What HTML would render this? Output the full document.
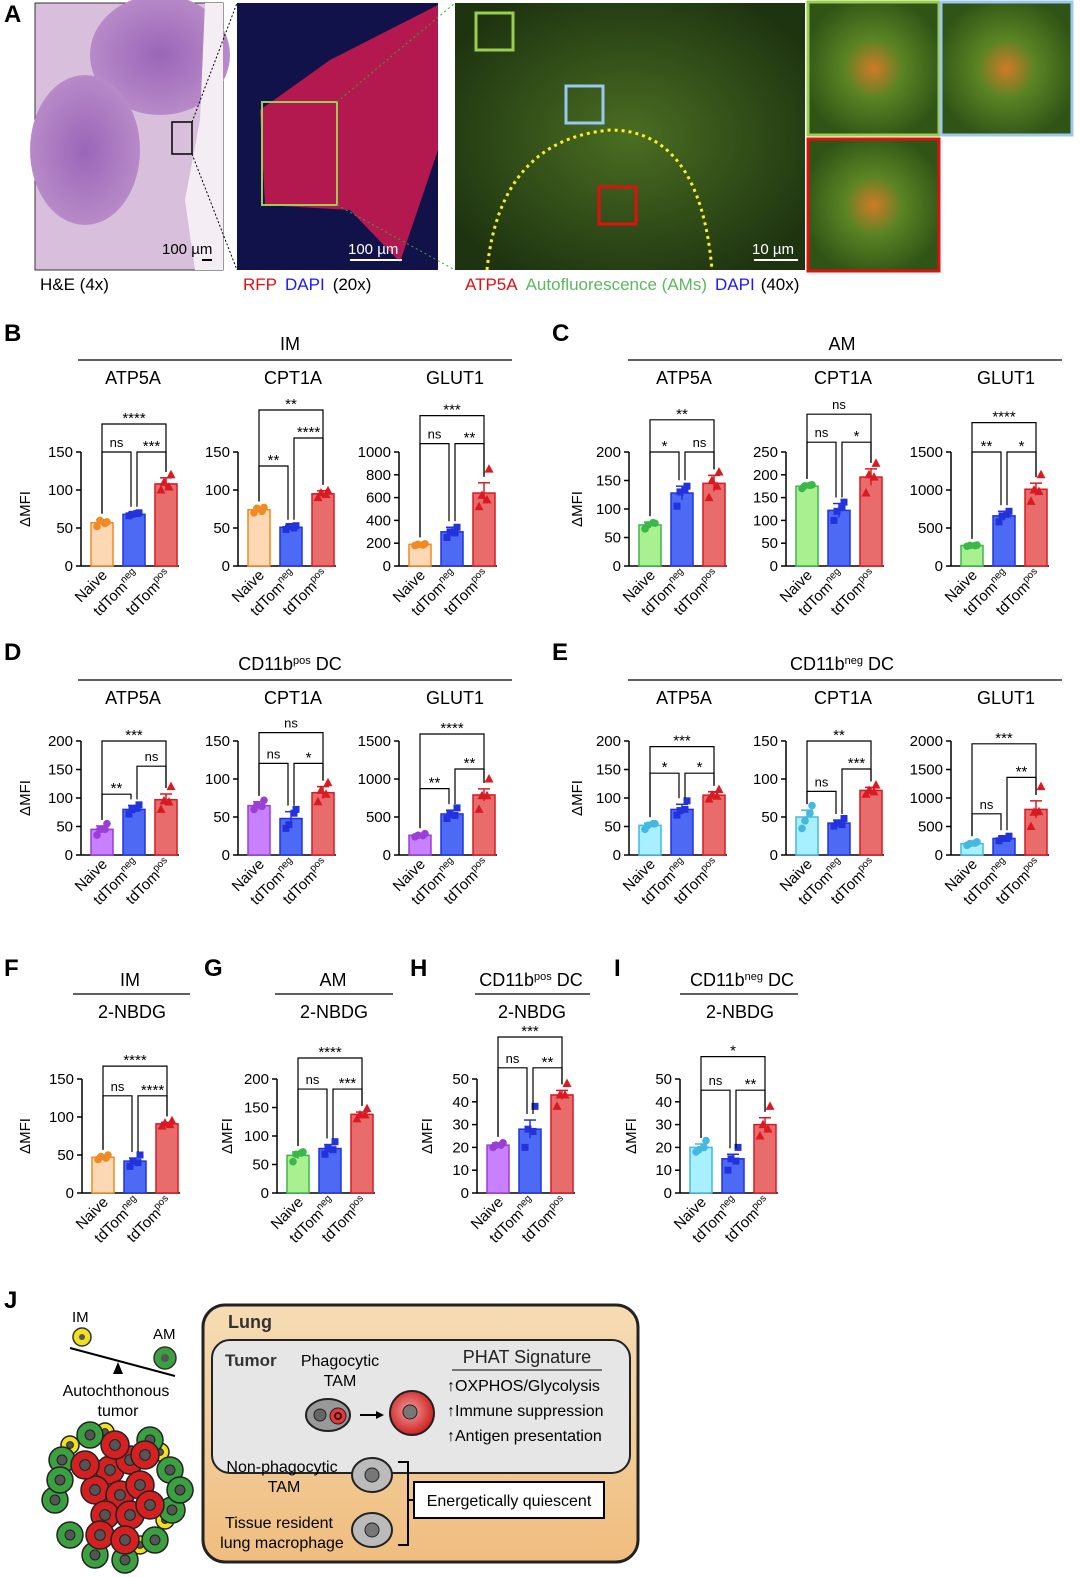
<!DOCTYPE html>
<html><head><meta charset="utf-8"><style>
html,body{margin:0;padding:0;background:#fff}
svg{display:block;font-family:"Liberation Sans",Arial,sans-serif}
</style></head><body>
<svg id="fig" width="1080" height="1577" viewBox="0 0 1080 1577" xmlns="http://www.w3.org/2000/svg">
<defs>
<radialGradient id="he1" cx="50%" cy="50%" r="50%"><stop offset="0" stop-color="#9a66b8"/><stop offset="1" stop-color="#b88ac8"/></radialGradient>
<radialGradient id="grn" cx="50%" cy="50%" r="60%"><stop offset="0" stop-color="#4a6e22"/><stop offset="1" stop-color="#1e3410"/></radialGradient>
<radialGradient id="ins" cx="50%" cy="50%" r="55%"><stop offset="0" stop-color="#d07a28"/><stop offset="0.4" stop-color="#5a8424"/><stop offset="1" stop-color="#2f5416"/></radialGradient>
<radialGradient id="redcell" cx="45%" cy="45%" r="55%"><stop offset="0" stop-color="#f0a0a0"/><stop offset="1" stop-color="#d02020"/></radialGradient>
<linearGradient id="lung" x1="0" y1="0" x2="0" y2="1"><stop offset="0" stop-color="#f6dcb4"/><stop offset="1" stop-color="#efbd7e"/></linearGradient>
</defs>

<g>
<text x="4" y="22" font-size="24" font-weight="bold">A</text>
<rect x="35" y="3" width="188" height="267" fill="#d8bfdc" stroke="#333"/>
<ellipse cx="160" cy="55" rx="70" ry="60" fill="url(#he1)"/>
<ellipse cx="85" cy="150" rx="55" ry="75" fill="url(#he1)"/>
<path d="M205,3 L223,3 L223,270 L195,270 L185,200 L200,120 Z" fill="#f4eef4"/>
<rect x="172" y="122" width="20" height="32" fill="none" stroke="#000" stroke-width="1.5"/>
<line x1="192" y1="122" x2="237" y2="3" stroke="#000" stroke-dasharray="2,2"/>
<line x1="192" y1="154" x2="237" y2="270" stroke="#000" stroke-dasharray="2,2"/>
<text x="162" y="254" font-size="15" fill="#000">100 µm</text>
<rect x="202" y="259" width="10" height="2" fill="#000"/>
<rect x="237" y="3" width="201" height="267" fill="#12124a"/>
<path d="M260,110 L330,60 L438,5 L438,150 L400,262 L350,210 L265,205 Z" fill="#b3184e"/>
<rect x="262" y="102" width="75" height="103" fill="none" stroke="#9acd50" stroke-width="2"/>
<text x="348" y="254" font-size="15" fill="#fff">100 µm</text>
<rect x="350" y="259" width="52" height="2" fill="#fff"/>
<line x1="337" y1="102" x2="455" y2="3" stroke="#3a3" stroke-dasharray="2,3"/>
<line x1="337" y1="205" x2="455" y2="270" stroke="#3a3" stroke-dasharray="2,3"/>
<rect x="455" y="3" width="350" height="267" fill="url(#grn)"/>
<path d="M487,270 Q500,140 610,130 Q700,130 712,270" fill="none" stroke="#ffee22" stroke-width="3" stroke-dasharray="3,4"/>
<rect x="476" y="13" width="37" height="37" fill="none" stroke="#9acd50" stroke-width="3"/>
<rect x="566" y="86" width="37" height="37" fill="none" stroke="#9cc8f0" stroke-width="3"/>
<rect x="599" y="187" width="37" height="37" fill="none" stroke="#e01010" stroke-width="3"/>
<text x="752" y="254" font-size="15" fill="#fff">10 µm</text>
<rect x="754" y="259" width="44" height="2" fill="#fff"/>
<rect x="808" y="2" width="131" height="133" fill="url(#ins)" stroke="#9acd50" stroke-width="3"/>
<rect x="941" y="2" width="131" height="133" fill="url(#ins)" stroke="#9cc8f0" stroke-width="3"/>
<rect x="808" y="139" width="131" height="132" fill="url(#ins)" stroke="#e01010" stroke-width="3"/>
<text x="40" y="290" font-size="17">H&amp;E (4x)</text>
<text x="243" y="290" font-size="17"><tspan fill="#e01010">RFP</tspan><tspan fill="#1a1aff" dx="8">DAPI</tspan><tspan dx="8">(20x)</tspan></text>
<text x="465" y="290" font-size="17"><tspan fill="#e01010">ATP5A</tspan><tspan fill="#5cb85c" dx="8">Autofluorescence (AMs)</tspan><tspan fill="#1a1aff" dx="8">DAPI</tspan><tspan dx="6">(40x)</tspan></text>
</g>
<g id="charts"></g>

<g>
<text x="4" y="1308" font-size="24" font-weight="bold">J</text>
<text x="72" y="1322" font-size="15">IM</text>
<text x="153" y="1339" font-size="15">AM</text>
<line x1="70" y1="1348" x2="175" y2="1376" stroke="#000" stroke-width="2"/>
<polygon points="118,1362 113,1374 123,1374" fill="#000"/>
<circle cx="82" cy="1337" r="9" fill="#f0e020" stroke="#333" stroke-width="1.5"/><circle cx="82" cy="1337" r="3" fill="#555"/>
<circle cx="165" cy="1358" r="11" fill="#3aa040" stroke="#333" stroke-width="1.5"/><circle cx="165" cy="1358" r="4" fill="#555"/>
<text x="116" y="1396" font-size="16" text-anchor="middle">Autochthonous</text>
<text x="118" y="1416" font-size="16" text-anchor="middle">tumor</text>
<g id="tumor"></g>
<rect x="203" y="1305" width="435" height="257" rx="22" fill="url(#lung)" stroke="#222" stroke-width="3"/>
<text x="228" y="1328" font-size="18" font-weight="bold" fill="#333">Lung</text>
<rect x="212" y="1340" width="418" height="133" rx="18" fill="#e6e6e6" stroke="#222" stroke-width="2"/>
<text x="225" y="1366" font-size="17" font-weight="bold" fill="#333">Tumor</text>
<text x="340" y="1366" font-size="16" text-anchor="middle">Phagocytic</text>
<text x="340" y="1386" font-size="16" text-anchor="middle">TAM</text>
<ellipse cx="328" cy="1415" rx="22" ry="16" fill="#999" stroke="#222" stroke-width="2"/>
<circle cx="320" cy="1415" r="6" fill="#666" stroke="#222"/>
<circle cx="338" cy="1416" r="8" fill="#e33" stroke="#222"/><circle cx="338" cy="1416" r="4" fill="#222"/><circle cx="338" cy="1416" r="2" fill="#e33"/>
<line x1="360" y1="1415" x2="378" y2="1415" stroke="#000" stroke-width="2"/><polygon points="384,1415 376,1411 376,1419" fill="#000"/>
<circle cx="412" cy="1413" r="22" fill="url(#redcell)" stroke="#222" stroke-width="2"/>
<circle cx="410" cy="1412" r="7" fill="#777" stroke="#222"/>
<text x="527" y="1363" font-size="18" text-anchor="middle" fill="#222">PHAT Signature</text>
<line x1="452" y1="1370" x2="602" y2="1370" stroke="#000"/>
<text x="447" y="1391" font-size="16">↑OXPHOS/Glycolysis</text>
<text x="447" y="1416" font-size="16">↑Immune suppression</text>
<text x="447" y="1441" font-size="16">↑Antigen presentation</text>
<text x="282" y="1472" font-size="16" text-anchor="middle">Non-phagocytic</text>
<text x="284" y="1492" font-size="16" text-anchor="middle">TAM</text>
<ellipse cx="372" cy="1475" rx="20" ry="17" fill="#bbb" stroke="#222" stroke-width="2"/><circle cx="372" cy="1475" r="7" fill="#777" stroke="#222"/>
<text x="279" y="1528" font-size="16" text-anchor="middle">Tissue resident</text>
<text x="282" y="1548" font-size="16" text-anchor="middle">lung macrophage</text>
<ellipse cx="372" cy="1530" rx="20" ry="17" fill="#bbb" stroke="#222" stroke-width="2"/><circle cx="372" cy="1530" r="7" fill="#777" stroke="#222"/>
<polyline points="398,1462 408,1462 408,1545 398,1545" fill="none" stroke="#000" stroke-width="2"/>
<line x1="408" y1="1500" x2="414" y2="1500" stroke="#000" stroke-width="2"/>
<rect x="414" y="1482" width="190" height="36" fill="#fff" stroke="#000" stroke-width="2"/>
<text x="509" y="1506" font-size="16" text-anchor="middle">Energetically quiescent</text>
</g>
</svg>
<script>
const NS='http://www.w3.org/2000/svg';
const groupLabels=['Naive','tdTom','tdTom'];
const groupSups=['','neg','pos'];
const meanB1=[57,68,108], errB1=[4,2,8], ptsB1=[[52,58,60,56],[66,70,68,69],[100,120,110,104]];
const meanB2=[74,51,95], errB2=[3,2,4], ptsB2=[[70,77,76,72],[48,53,52,50],[90,99,96,94]];
const meanB3=[190,300,640], errB3=[10,40,90], ptsB3=[[180,195,190,185],[250,340,300,290],[520,850,620,580]];
const meanC1=[72,128,145], errC1=[5,12,14], ptsC1=[[65,75,72,76],[105,140,130,135],[120,165,150,140]];
const meanC2=[175,122,195], errC2=[3,15,18], ptsC2=[[170,178,176,177],[100,140,120,128],[160,225,200,195]];
const meanC3=[270,660,1010], errC3=[10,60,80], ptsC3=[[260,275,270,268],[580,720,660,680],[850,1200,1000,980]];
const meanD1=[45,80,97], errD1=[6,7,10], ptsD1=[[35,55,45,45],[72,88,80,82],[80,120,95,93]];
const meanD2=[65,48,82], errD2=[5,9,8], ptsD2=[[60,72,66,64],[35,60,40,55],[70,95,85,80]];
const meanD3=[260,540,790], errD3=[15,50,80], ptsD3=[[240,280,260,255],[480,620,540,520],[600,1000,780,780]];
const meanE1=[52,80,105], errE1=[4,9,6], ptsE1=[[45,55,52,55],[70,95,78,80],[98,115,105,103]];
const meanE2=[50,42,85], errE2=[9,4,4], ptsE2=[[35,65,45,55],[38,48,42,40],[80,92,85,83]];
const meanE3=[200,290,800], errE3=[25,40,150], ptsE3=[[170,230,200,210],[250,330,290,290],[500,1200,750,760]];
const meanF=[47,42,91], errF=[2,4,2], ptsF=[[44,50,48,46],[35,50,42,40],[88,95,92,90]];
const meanG=[66,78,138], errG=[6,7,4], ptsG=[[55,72,68,70],[68,90,78,76],[130,148,137,137]];
const meanH=[21,28,43], errH=[1,4,2], ptsH=[[20,22,21,21],[20,38,28,27],[38,48,43,43]];
const meanI=[20,15,30], errI=[1.5,2,3], ptsI=[[18,23,19,20],[10,20,15,14],[25,38,30,28]];
const sigB1=[[0,1,'ns',0],[1,2,'***',0],[0,2,'****',1]];
const sigB2=[[0,1,'**',-0.5],[1,2,'****',0.5],[0,2,'**',1.5]];
const sigB3=[[0,1,'ns',0.3],[1,2,'**',0.3],[0,2,'***',1.3]];
const sigC1=[[0,1,'*',0],[1,2,'ns',0],[0,2,'**',1.15]];
const sigC2=[[0,1,'ns',0.35],[1,2,'*',0.35],[0,2,'ns',1.35]];
const sigC3=[[0,1,'**',0],[1,2,'*',0],[0,2,'****',1.05]];
const sigD1=[[0,1,'**',-1.9],[1,2,'ns',-0.9],[0,2,'***',0]];
const sigD2=[[0,1,'ns',-0.8],[1,2,'*',-0.8],[0,2,'ns',0.3]];
const sigD3=[[0,1,'**',-1.7],[1,2,'**',-1],[0,2,'****',0.25]];
const sigE1=[[0,1,'*',-1.15],[1,2,'*',-1.15],[0,2,'***',-0.2]];
const sigE2=[[0,1,'ns',-1.8],[1,2,'***',-1],[0,2,'**',0]];
const sigE3=[[0,1,'ns',-2.6],[1,2,'**',-1.3],[0,2,'***',-0.1]];
const sigF=[[0,1,'ns',-0.6],[1,2,'****',-0.6],[0,2,'****',0.46]];
const sigG=[[0,1,'ns',-0.36],[1,2,'***',-0.36],[0,2,'****',0.75]];
const sigH=[[0,1,'ns',0.4],[1,2,'**',0.4],[0,2,'***',1.5]];
const sigI=[[0,1,'ns',-0.4],[1,2,'**',-0.4],[0,2,'*',0.8]];

const COL={IM:[['#fcd9b4','#f08a24'],['#4d6af5','#2233dd'],['#e86c6c','#d91a22']],
AM:[['#a8f090','#3cb84a'],['#4d6af5','#2233dd'],['#e86c6c','#d91a22']],
DP:[['#c880ff','#9b3ed6'],['#4d6af5','#2233dd'],['#e86c6c','#d91a22']],
DN:[['#a8f0ff','#45b8e0'],['#4d6af5','#2233dd'],['#e86c6c','#d91a22']]};

const root=document.getElementById('charts');
function el(tag,attrs,parent,text){const e=document.createElementNS(NS,tag);for(const k in attrs)e.setAttribute(k,attrs[k]);if(text!==undefined)e.textContent=text;(parent||root).appendChild(e);return e;}

function chart(name,ax,yb,max,step,mean,err,pts,sig,col,ylx){
  const g=el('g',{});
  
  
  const H=114, top=yb-H;
  const y=v=>yb-v/max*H;
  el('line',{x1:ax,y1:yb,x2:ax,y2:top,stroke:'#000','stroke-width':1.5},g);
  el('line',{x1:ax,y1:yb,x2:ax+98,y2:yb,stroke:'#000','stroke-width':1.5},g);
  for(let v=0;v<=max+1e-9;v+=step){
    el('line',{x1:ax-5,y1:y(v),x2:ax,y2:y(v),stroke:'#000','stroke-width':1.5},g);
    const t=el('text',{x:ax-8,y:y(v)+5,'font-size':15,'text-anchor':'end'},g,String(v));
    
    
  }
  if(ylx!==undefined){
    const t=el('text',{x:ylx,y:yb-57,'font-size':15,'text-anchor':'middle',transform:`rotate(-90 ${ylx} ${yb-57})`},g,'ΔMFI');
    
    
  }
  const cx=[ax+21,ax+53,ax+85];
  for(let i=0;i<3;i++){
    const b=el('rect',{x:cx[i]-11,y:y(mean[i]),width:22,height:yb-y(mean[i]),fill:col[i][0],stroke:col[i][1],'stroke-width':1.5},g);
    
    
    el('line',{x1:cx[i],y1:y(mean[i]-err[i]),x2:cx[i],y2:y(mean[i]+err[i]),stroke:col[i][1],'stroke-width':1.5},g);
    el('line',{x1:cx[i]-6,y1:y(mean[i]+err[i]),x2:cx[i]+6,y2:y(mean[i]+err[i]),stroke:col[i][1],'stroke-width':1.5},g);
    pts[i].forEach((v,k)=>{
      const px=cx[i]+[-5,5,-2,3][k], py=y(v);
      let m;
      if(i===0)m=el('circle',{cx:px,cy:py,r:3.8,fill:col[i][1]},g);
      else if(i===1)m=el('rect',{x:px-3.5,y:py-3.5,width:7,height:7,fill:col[i][1]},g);
      else m=el('polygon',{points:`${px},${py-5} ${px-4.5},${py+3.5} ${px+4.5},${py+3.5}`,fill:col[i][1]},g);
      
      
    });
    const lx=cx[i]+6, ly=yb+10;
    const t=el('text',{x:lx,y:ly,'font-size':15,'text-anchor':'end',transform:`rotate(-45 ${lx} ${ly})`},g);
    
    
    el('tspan',{},t,groupLabels[i]);
    if(groupSups[i]){el('tspan',{'font-size':10,dy:-6},t,groupSups[i]);}
  }
  sig.forEach(([a,b,lab,lv])=>{
    const ly=top-lv*28;
    const xa=cx[a]+(a===1?3:0), xb=cx[b]-(b===1?3:0);
    const ta=Math.min(y(mean[a]+err[a])-6,yb-10), tb=Math.min(y(mean[b]+err[b])-6,yb-10);
    const p=el('polyline',{points:`${xa},${Math.max(ta,ly)} ${xa},${ly} ${xb},${ly} ${xb},${Math.max(tb,ly)}`,fill:'none',stroke:'#000','stroke-width':1.2},g);
    
    
    const t=el('text',{x:(xa+xb)/2,y:ly-(lab==='ns'?5:1),'font-size':lab==='ns'?13:15,'text-anchor':'middle'},g,lab);
    
    
  });
}
function txt(name,x,y,s,size,anchor,weight){const t=el('text',{x:x,y:y,'font-size':size,'text-anchor':anchor||'middle','font-weight':weight||'normal'},root);t.innerHTML=s;return t;}
function hline(x1,x2,y){el('line',{x1:x1,y1:y,x2:x2,y2:y,stroke:'#000','stroke-width':1.2});}

[['B',4,341],['C',552,341],['D',4,660],['E',552,660],['F',4,976],['G',204,976],['H',410,976],['I',614,976]].forEach(([l,x,y])=>txt('panel-label-'+l.toLowerCase(),x,y,l,24,'start','bold'));
txt('header-im',290,350,'IM',18);hline(78,512,360);
txt('header-am',842,350,'AM',18);hline(628,1062,360);
txt('header-cd11bpos',290,670,'CD11b<tspan font-size="11" dy="-6">pos</tspan><tspan dy="6"> DC</tspan>',18);hline(78,512,680);
txt('header-cd11bneg',842,670,'CD11b<tspan font-size="11" dy="-6">neg</tspan><tspan dy="6"> DC</tspan>',18);hline(628,1062,680);
[[133,'ATP5A'],[293,'CPT1A'],[455,'GLUT1'],[684,'ATP5A'],[843,'CPT1A'],[1006,'GLUT1']].forEach(([x,s])=>{txt('subtitle',x,384,s,18);txt('subtitle',x,704,s,18);});
txt('header-f',130,986,'IM',18);hline(73,190,994);txt('sub-f',132,1018,'2-NBDG',18);
txt('header-g',333,986,'AM',18);hline(275,393,994);txt('sub-g',334,1018,'2-NBDG',18);
txt('header-h',531,986,'CD11b<tspan font-size="11" dy="-6">pos</tspan><tspan dy="6"> DC</tspan>',18);hline(475,590,994);txt('sub-h',532,1018,'2-NBDG',18);
txt('header-i',742,986,'CD11b<tspan font-size="11" dy="-6">neg</tspan><tspan dy="6"> DC</tspan>',18);hline(680,798,994);txt('sub-i',740,1018,'2-NBDG',18);

chart('chart-b-atp5a',81,566,150,50,meanB1,errB1,ptsB1,sigB1,COL.IM,30);
chart('chart-b-cpt1a',238,566,150,50,meanB2,errB2,ptsB2,sigB2,COL.IM);
chart('chart-b-glut1',399,566,1000,200,meanB3,errB3,ptsB3,sigB3,COL.IM);
chart('chart-c-atp5a',629,566,200,50,meanC1,errC1,ptsC1,sigC1,COL.AM,582);
chart('chart-c-cpt1a',786,566,250,50,meanC2,errC2,ptsC2,sigC2,COL.AM);
chart('chart-c-glut1',951,566,1500,500,meanC3,errC3,ptsC3,sigC3,COL.AM);
chart('chart-d-atp5a',81,855,200,50,meanD1,errD1,ptsD1,sigD1,COL.DP,30);
chart('chart-d-cpt1a',238,855,150,50,meanD2,errD2,ptsD2,sigD2,COL.DP);
chart('chart-d-glut1',399,855,1500,500,meanD3,errD3,ptsD3,sigD3,COL.DP);
chart('chart-e-atp5a',629,855,200,50,meanE1,errE1,ptsE1,sigE1,COL.DN,582);
chart('chart-e-cpt1a',786,855,150,50,meanE2,errE2,ptsE2,sigE2,COL.DN);
chart('chart-e-glut1',951,855,2000,500,meanE3,errE3,ptsE3,sigE3,COL.DN);
chart('chart-f-im',82,1193,150,50,meanF,errF,ptsF,sigF,COL.IM,30);
chart('chart-g-am',277,1193,200,50,meanG,errG,ptsG,sigG,COL.AM,232);
chart('chart-h-cd11bpos',477,1193,50,10,meanH,errH,ptsH,sigH,COL.DP,432);
chart('chart-i-cd11bneg',680,1193,50,10,meanI,errI,ptsI,sigI,COL.DN,636);

const tg=document.getElementById('tumor');
const reds=[[110,1470],[130,1460],[95,1490],[120,1495],[140,1485],[105,1515],[130,1515],[150,1505],[85,1465],[115,1445],[145,1455],[100,1535],[125,1540]];
const greens=[[62,1460],[55,1500],[70,1535],[95,1555],[125,1560],[155,1540],[172,1510],[170,1470],[150,1440],[90,1435],[60,1480],[180,1490]];
const yellows=[[105,1432],[160,1452],[70,1445],[165,1520],[140,1545]];
function cell(x,y,r,fill){el('circle',{cx:x,cy:y,r:r,fill:fill,stroke:'#222','stroke-width':1.5},tg);el('circle',{cx:x,cy:y,r:r*0.38,fill:'#555',stroke:'#222'},tg);}
yellows.forEach(p=>cell(p[0],p[1],9,'#f0e020'));
greens.forEach(p=>cell(p[0],p[1],13,'#3aa040'));
reds.forEach(p=>cell(p[0],p[1],14,'#d42020'));
</script>
</body></html>
